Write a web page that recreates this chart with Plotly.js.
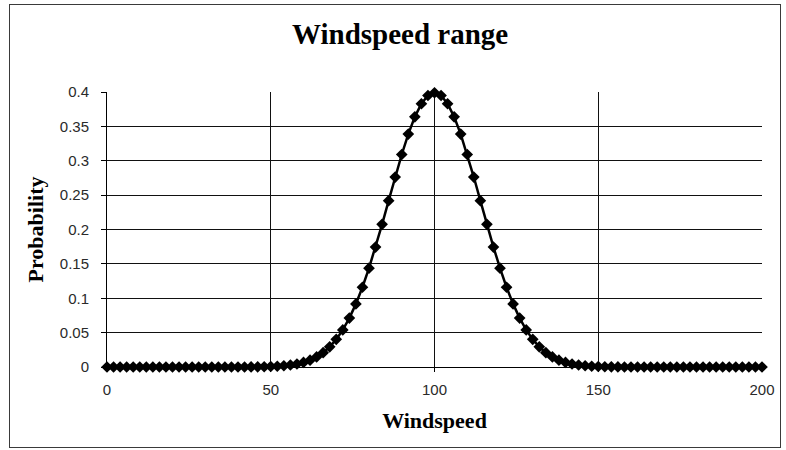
<!DOCTYPE html>
<html>
<head>
<meta charset="utf-8">
<script src="https://cdn.plot.ly/plotly-3.0.1.min.js"></script>
<style>
  html, body { margin: 0; padding: 0; background: #ffffff; }
  #wrap { position: relative; width: 786px; height: 450px; }
  #chart { position: absolute; left: 0; top: 0; width: 786px; height: 450px; }
  #frame { position: absolute; left: 9px; top: 4px; width: 772px; height: 444px;
           border: 1.5px solid #3a3a3a; pointer-events: none; box-sizing: border-box; }
</style>
</head>
<body>
<div id="wrap">
  <div id="chart"></div>
  <div id="frame"></div>
</div>
<script>
// Windspeed values (x) and read probabilities (y)
const windspeed = [
  0, 2, 4, 6, 8, 10, 12, 14, 16, 18, 20, 22, 24, 26, 28, 30, 32, 34, 36, 38,
  40, 42, 44, 46, 48, 50, 52, 54, 56, 58, 60, 62, 64, 66, 68, 70, 72, 74, 76, 78,
  80, 82, 84, 86, 88, 90, 92, 94, 96, 98, 100, 102, 104, 106, 108, 110, 112, 114, 116, 118,
  120, 122, 124, 126, 128, 130, 132, 134, 136, 138, 140, 142, 144, 146, 148, 150, 152, 154, 156, 158,
  160, 162, 164, 166, 168, 170, 172, 174, 176, 178, 180, 182, 184, 186, 188, 190, 192, 194, 196, 198,
  200
];
const probability = [
  0, 0, 0, 0, 0, 0, 0, 0, 0, 0, 0, 0, 0, 0, 0, 0, 0, 0, 0, 0,
  0, 0, 0.0001, 0.0002, 0.0004, 0.0007, 0.0011, 0.0018, 0.0029, 0.0044,
  0.0067, 0.0100, 0.0146, 0.0209, 0.0293, 0.0402, 0.0540, 0.0711, 0.0918, 0.1160,
  0.1438, 0.1745, 0.2076, 0.2420, 0.2763, 0.3091, 0.3388, 0.3639, 0.3829, 0.3949,
  0.3989,
  0.3949, 0.3829, 0.3639, 0.3388, 0.3091, 0.2763, 0.2420, 0.2076, 0.1745, 0.1438,
  0.1160, 0.0918, 0.0711, 0.0540, 0.0402, 0.0293, 0.0209, 0.0146, 0.0100, 0.0067,
  0.0044, 0.0029, 0.0018, 0.0011, 0.0007, 0.0004, 0.0002, 0.0001, 0, 0,
  0, 0, 0, 0, 0, 0, 0, 0, 0, 0, 0, 0, 0, 0, 0, 0, 0, 0, 0, 0
];
const xTicks = [0, 50, 100, 150, 200];
const yTicks = [0, 0.05, 0.1, 0.15, 0.2, 0.25, 0.3, 0.35, 0.4];
const yTickText = ['0', '0.05', '0.1', '0.15', '0.2', '0.25', '0.3', '0.35', '0.4'];

const trace = {
  x: windspeed,
  y: probability,
  type: 'scatter',
  mode: 'lines+markers',
  line: { color: '#000000', width: 2.5 },
  marker: { symbol: 'diamond', size: 9, color: '#000000' },
  cliponaxis: false,
  hoverinfo: 'skip'
};

const serif = '"Liberation Serif", "Times New Roman", serif';
const sans = '"Liberation Sans", Arial, sans-serif';

const layout = {
  width: 786,
  height: 450,
  margin: { l: 107, r: 24, t: 92, b: 83, pad: 0 },
  paper_bgcolor: '#ffffff',
  plot_bgcolor: '#ffffff',
  showlegend: false,
  title: {
    text: '<b>Windspeed range</b>',
    font: { family: serif, size: 29, color: '#000000' },
    x: 0.509, xanchor: 'center',
    y: 0.925, yanchor: 'middle', yref: 'container'
  },
  xaxis: {
    range: [0, 200],
    tickvals: xTicks,
    ticktext: xTicks.map(String),
    showgrid: true,
    gridcolor: '#111111',
    gridwidth: 1,
    zeroline: false,
    showline: true,
    linecolor: '#000000',
    linewidth: 1,
    ticks: 'outside',
    ticklen: 4,
    tickcolor: '#000000',
    ticklabelstandoff: 5,
    tickfont: { family: sans, size: 15, color: '#2a2a2a' },
    title: {
      text: '<b>Windspeed</b>',
      font: { family: serif, size: 22, color: '#000000' },
      standoff: 15
    },
    fixedrange: true
  },
  yaxis: {
    range: [0, 0.4],
    tickvals: yTicks,
    ticktext: yTickText,
    showgrid: true,
    gridcolor: '#111111',
    gridwidth: 1,
    zeroline: false,
    showline: true,
    linecolor: '#000000',
    linewidth: 1,
    ticks: 'outside',
    ticklen: 5,
    tickcolor: '#000000',
    ticklabelstandoff: 9,
    tickfont: { family: sans, size: 15, color: '#2a2a2a' },
    title: {
      text: '<b>Probability</b>',
      font: { family: serif, size: 22, color: '#000000' },
      standoff: 10
    },
    fixedrange: true
  }
};

Plotly.newPlot('chart', [trace], layout, { displayModeBar: false, staticPlot: true });
</script>
</body>
</html>
